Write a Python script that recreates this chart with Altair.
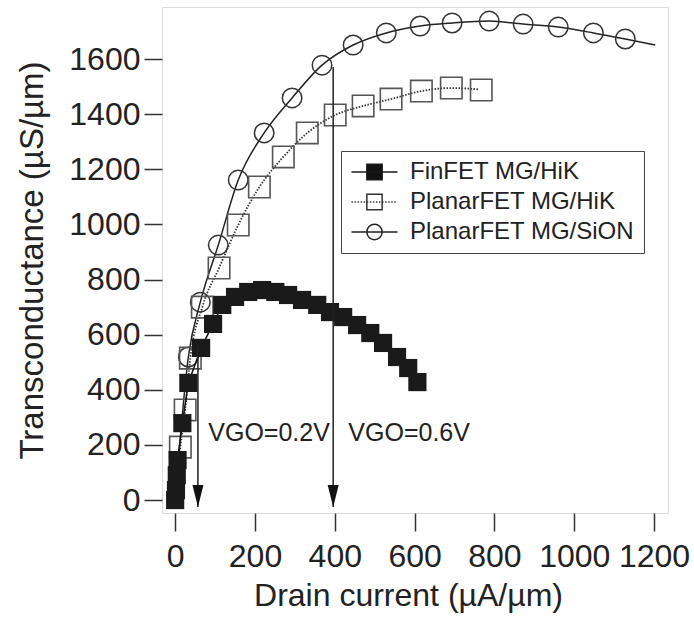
import altair as alt
import pandas as pd

FONT = "Liberation Sans"
SERIES = ["FinFET MG/HiK", "PlanarFET MG/HiK", "PlanarFET MG/SiON"]

# FinFET MG/HiK (filled squares)
fin_x = [0, 2, 4, 6, 18, 33, 65, 95, 118, 150, 183, 218, 251, 283, 318, 356, 388, 421, 456, 489, 521, 556, 584, 607]
fin_y = [0, 36, 90, 145, 279, 425, 552, 639, 708, 737, 755, 762, 755, 744, 726, 708, 682, 664, 635, 606, 570, 519, 479, 428]

# PlanarFET MG/HiK (open squares)
hik_x = [13, 25, 38, 68, 110, 158, 211, 271, 331, 401, 471, 541, 617, 692, 767]
hik_y = [192, 327, 515, 700, 842, 998, 1136, 1245, 1332, 1397, 1430, 1455, 1484, 1495, 1488]
hik_line_x = [0, 13, 25, 38, 68, 110, 158, 211, 271, 331, 401, 471, 541, 617, 692, 762]
hik_line_y = [0, 192, 327, 515, 700, 842, 998, 1136, 1245, 1332, 1397, 1430, 1455, 1484, 1495, 1490]

# PlanarFET MG/SiON (open circles)
sion_x = [33, 63, 108, 158, 223, 293, 368, 446, 529, 614, 694, 787, 872, 960, 1048, 1128]
sion_y = [519, 718, 925, 1161, 1332, 1459, 1578, 1651, 1695, 1720, 1731, 1738, 1727, 1716, 1695, 1673]
sion_line_x = [0, 33, 63, 108, 158, 223, 293, 368, 446, 529, 614, 694, 787, 872, 960, 1048, 1128, 1203]
sion_line_y = [0, 519, 718, 925, 1161, 1332, 1459, 1578, 1651, 1695, 1720, 1731, 1738, 1727, 1716, 1695, 1673, 1651]

x_ticks = [0, 200, 400, 600, 800, 1000, 1200]
y_ticks = [0, 200, 400, 600, 800, 1000, 1200, 1400, 1600]

arrow_x = [57, 396]
arrow_top = [560, 1571]
arrow_tip = [-25, -25]
vgo_text = ["VGO=0.2V", "VGO=0.6V"]
vgo_x = [83, 434]
vgo_y = [243, 243]

xs = alt.Scale(domain=[-33, 1235], nice=False, zero=False)
ys = alt.Scale(domain=[-47, 1789], nice=False, zero=False)

common_axis = dict(grid=False, domain=False, tickSize=18, tickWidth=1.5, tickColor="#333",
                   labelFont=FONT, labelFontSize=32, labelColor="#222",
                   titleFont=FONT, titleColor="#222", titleFontWeight="normal")
X = alt.X("x:Q", scale=xs, axis=alt.Axis(values=x_ticks, format="d", labelPadding=10, titlePadding=8,
                                           titleX=246, titleFontSize=32, labelOverlap=False, **common_axis),
          title="Drain current (µA/µm)")
Y = alt.Y("y:Q", scale=ys, axis=alt.Axis(values=y_ticks, format="d", labelPadding=4, titlePadding=19,
                                           titleFontSize=33, labelOverlap=False, **common_axis),
          title="Transconductance (µS/µm)")

df_fin = pd.DataFrame({"x": fin_x, "y": fin_y})
df_hik = pd.DataFrame({"x": hik_x, "y": hik_y})
df_hik_l = pd.DataFrame({"x": hik_line_x, "y": hik_line_y})
df_sion = pd.DataFrame({"x": sion_x, "y": sion_y})
df_sion_l = pd.DataFrame({"x": sion_line_x, "y": sion_line_y})
df_arrow = pd.DataFrame({"x": arrow_x, "y": arrow_top, "y2": arrow_tip})
df_tip = pd.DataFrame({"x": arrow_x, "y": arrow_tip})
df_txt = pd.DataFrame({"x": vgo_x, "y": vgo_y, "t": vgo_text})

sion_line = alt.Chart(df_sion_l).mark_line(color="#222", strokeWidth=1.5, interpolate="monotone").encode(x=X, y=Y)
hik_line = alt.Chart(df_hik_l).mark_line(color="#333", strokeWidth=1.8, strokeDash=[1.5, 1.5],
                                         interpolate="monotone").encode(x=X, y=Y)
sion_pts = alt.Chart(df_sion).mark_point(shape="circle", size=380, filled=False, color="#333",
                                         strokeWidth=1.5, opacity=1).encode(x=X, y=Y)
hik_pts = alt.Chart(df_hik).mark_point(shape="square", size=460, filled=False, color="#555",
                                       strokeWidth=1.6, opacity=1).encode(x=X, y=Y)
fin_line = alt.Chart(df_fin).mark_line(color="#111", strokeWidth=1.5).encode(x=X, y=Y)
fin_pts = alt.Chart(df_fin).mark_point(shape="square", size=330, filled=True, color="#1a1a1a",
                                       opacity=1).encode(x=X, y=Y)

arrows = alt.Chart(df_arrow).mark_rule(color="#222", strokeWidth=1.5).encode(x=X, y=Y, y2="y2:Q")
heads = alt.Chart(df_tip).mark_point(shape="M-0.5,-2L0.5,-2L0,0Z", size=484, filled=True,
                                     color="#111", opacity=1).encode(x=X, y=Y)
texts = alt.Chart(df_txt).mark_text(align="left", baseline="middle", font=FONT, fontSize=25,
                                    color="#222").encode(x=X, y=Y, text="t:N")

# legend symbols (line + marker) as custom paths, r = sqrt(size)/2 = 8.5 px per unit
c = 1.47
L0, L1 = -1.24, 4.18
h = 0.9
solid = f"M{L0},0H{L1}"
dots = ""
p = L0
while p < L1:
    dots += f"M{p:.2f},0H{min(p + 0.17, L1):.2f}"
    p += 0.36
sq = f"M{c - h},{-h}H{c + h}V{h}H{c - h}Z"
circ = f"M{c - h},0A{h},{h} 0 1,0 {c + h},0A{h},{h} 0 1,0 {c - h},0Z"
paths = [solid + sq, dots + sq, solid + circ]

df_leg = pd.DataFrame({"series": SERIES, "x": [None] * 3, "y": [None] * 3}).astype({"x": float, "y": float})
legend = alt.Legend(orient="none", legendX=179, legendY=144, title=None, padding=9, rowPadding=6,
                    labelFont=FONT, labelFontSize=24, labelColor="#222", labelOffset=36, labelLimit=0,
                    symbolSize=289, symbolStrokeWidth=1.5, symbolStrokeColor="#222",
                    strokeColor="#444")
leg = alt.Chart(df_leg).mark_point(filled=False, strokeWidth=1.5, opacity=1).encode(
    x=X, y=Y,
    shape=alt.Shape("series:N", scale=alt.Scale(domain=SERIES, range=paths), legend=legend),
    fill=alt.Fill("series:N", scale=alt.Scale(domain=SERIES, range=["#111", "transparent", "transparent"]),
                  legend=legend),
    stroke=alt.Stroke("series:N", scale=alt.Scale(domain=SERIES, range=["#1a1a1a", "#333", "#222"]),
                      legend=legend),
)

chart = alt.layer(sion_line, hik_line, sion_pts, hik_pts, fin_line, fin_pts, arrows, heads, texts, leg).properties(
    width=506, height=506,
    autosize=alt.AutoSizeParams(type="none"),
    padding={"left": 162, "top": 7, "right": 26, "bottom": 110},
).configure_view(stroke="#444", strokeWidth=1.8).configure(background="white")

chart.save("out.html", embed_options={"renderer": "svg", "actions": False})
